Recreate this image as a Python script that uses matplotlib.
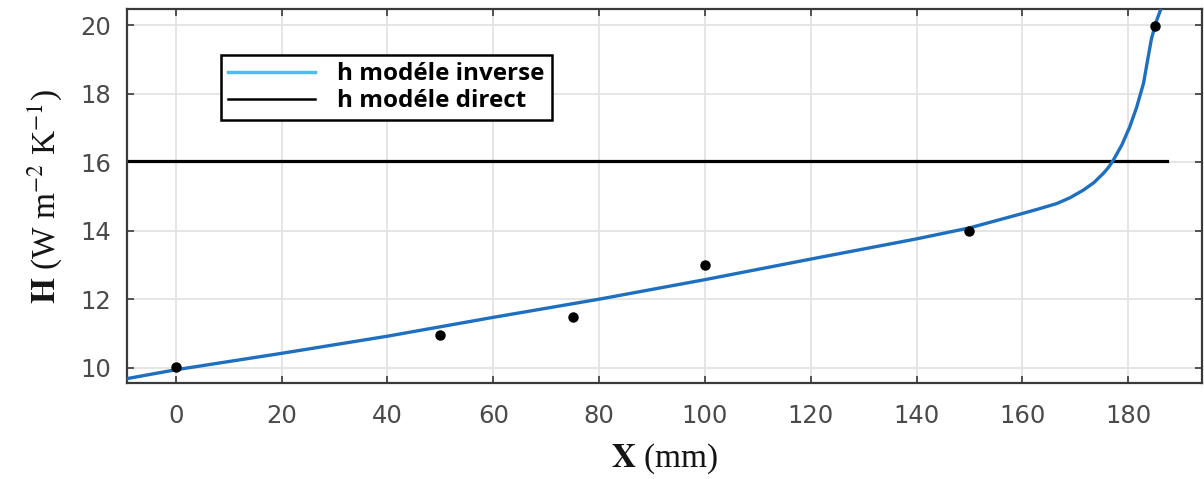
import matplotlib
matplotlib.use("Agg")
import matplotlib.pyplot as plt
from matplotlib.lines import Line2D

# =========================
# 数据
# =========================
x_inverse = [-9.3, 0, 20, 40, 60, 80, 100, 120, 140, 150, 160, 163, 166.5,
             169, 171.5, 173.5, 175.3, 176.3, 177.2, 178.8, 180.3, 181.6,
             182.9, 183.7, 184.4, 185.3, 186.5]
h_inverse = [9.68, 9.94, 10.42, 10.92, 11.47, 12.0, 12.57, 13.17, 13.76, 14.08,
             14.5, 14.63, 14.79, 14.96, 15.18, 15.4, 15.67, 15.85, 16.06, 16.5,
             17.03, 17.6, 18.3, 19.0, 19.6, 20.1, 20.6]

x_direct = [-9.3, 187.3]
h_direct = [16.03, 16.03]

x_mesure = [0, 50, 75, 100, 150, 185]
h_mesure = [10.03, 10.95, 11.47, 12.99, 13.98, 19.97]

x_ticks = [0, 20, 40, 60, 80, 100, 120, 140, 160, 180]
y_ticks = [10, 12, 14, 16, 18, 20]

legend_labels = ["h modéle inverse", "h modéle direct"]

# =========================
# 绘图
# =========================
plt.rcParams["mathtext.fontset"] = "stix"

fig = plt.figure(figsize=(12.04, 4.79), dpi=100)
ax = fig.add_axes([0.1052, 0.1998, 0.8929, 0.7808])

ax.plot(x_inverse, h_inverse, color="#1f6fc0", linewidth=2.4, zorder=3)
ax.plot(x_direct, h_direct, color="black", linewidth=2.3, zorder=2)
ax.plot(x_mesure, h_mesure, "o", color="black", markersize=6.5, zorder=4)

ax.set_xlim(-9.3, 193.9)
ax.set_ylim(9.545, 20.46)
ax.set_xticks(x_ticks)
ax.set_yticks(y_ticks)

# 网格和坐标轴样式（类似 MATLAB）
ax.grid(True, color="#e3e3e3", linewidth=1.3)
ax.set_axisbelow(True)
for sp in ax.spines.values():
    sp.set_color("#3a3a3a")
    sp.set_linewidth(1.6)
ax.tick_params(direction="in", length=5, width=1.2, colors="#3a3a3a",
               top=True, right=True, labelsize=17.5)
ax.tick_params(axis="x", pad=15)
ax.tick_params(axis="y", pad=11)
for lab in ax.get_xticklabels() + ax.get_yticklabels():
    lab.set_fontfamily("DejaVu Sans")
    lab.set_color("#4a4a4a")

ax.set_xlabel(r"$\mathbf{X}$ (mm)", fontsize=24, family="Liberation Serif", color="#151515")
ax.set_ylabel(r"$\mathbf{H}$ (W m$^{-2}$ K$^{-1}$)", fontsize=24,
              family="Liberation Serif", color="#151515")
ax.xaxis.set_label_coords(0.5, -0.155)
ax.yaxis.set_label_coords(-0.058, 0.5)

handles = [Line2D([], [], color="#4dbeee", linewidth=2.5),
           Line2D([], [], color="black", linewidth=1.8)]
leg = ax.legend(handles, legend_labels, loc="upper left",
                bbox_to_anchor=(0.0874, 0.878), borderaxespad=0,
                fancybox=False, framealpha=1, edgecolor="black",
                handlelength=3.6, handletextpad=0.9, labelspacing=0.12,
                borderpad=0.3,
                prop={"family": "Open Sans", "weight": "bold", "size": 17.5})
leg.get_frame().set_linewidth(1.8)

fig.savefig("out.png", dpi=100)
